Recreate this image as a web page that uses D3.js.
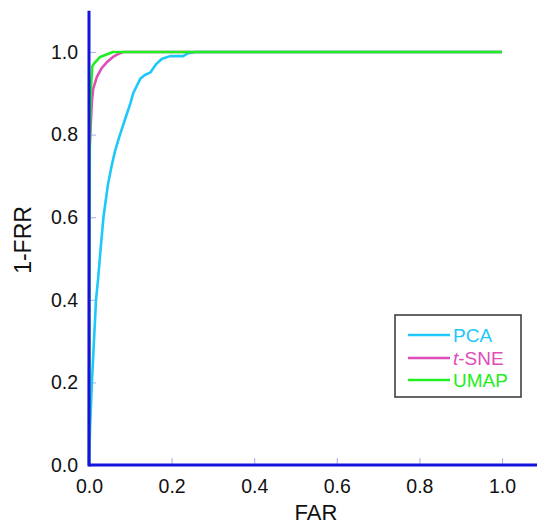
<!DOCTYPE html>
<html>
<head>
<meta charset="utf-8">
<script src="https://cdn.jsdelivr.net/npm/d3@7"></script>
<style>
  body { margin: 0; background: #fff; }
  text { font-family: "Liberation Sans", Arial, sans-serif; }
</style>
</head>
<body>
<script>
// ROC-style curves
const seriesNames = ["PCA", "t-SNE", "UMAP"];
const seriesColors = ["#1ec8fa", "#e04cb8", "#22ee22"];

const pcaFAR = [0, 0.003, 0.007, 0.012, 0.017, 0.022, 0.027, 0.035, 0.046, 0.055, 0.063, 0.072, 0.08, 0.09, 0.1, 0.107, 0.124, 0.136, 0.148, 0.162, 0.176, 0.196, 0.228, 0.24, 0.26, 1.0];
const pcaTAR = [0, 0.1, 0.2, 0.3, 0.4, 0.45, 0.51, 0.6, 0.68, 0.725, 0.76, 0.79, 0.815, 0.845, 0.875, 0.9, 0.935, 0.945, 0.95, 0.97, 0.983, 0.99, 0.99, 0.997, 1.0, 1.0];

const tsneFAR = [0, 0.001, 0.004, 0.007, 0.01, 0.019, 0.03, 0.043, 0.058, 0.07, 0.083, 1.0];
const tsneTAR = [0, 0.75, 0.82, 0.88, 0.91, 0.94, 0.96, 0.975, 0.988, 0.995, 1.0, 1.0];

const umapFAR = [0, 0.002, 0.004, 0.008, 0.012, 0.027, 0.058, 1.0];
const umapTAR = [0, 0.8, 0.9, 0.965, 0.972, 0.988, 1.0, 1.0];

const tickValues = [0, 0.2, 0.4, 0.6, 0.8, 1.0];

const width = 537, height = 524;
const x0 = 89, y0 = 465;
const unit = 413;

const svg = d3.select("body").append("svg")
    .attr("width", width)
    .attr("height", height);

const x = d3.scaleLinear().domain([0, 1.12]).range([x0, x0 + 1.12 * unit]);
const y = d3.scaleLinear().domain([0, 1.1]).range([y0, y0 - 1.1 * unit]);

// inward ticks, light lavender
const xAxis = svg.append("g")
    .attr("transform", `translate(0,${y0})`)
    .call(d3.axisBottom(x).tickValues(tickValues).tickSize(-7).tickPadding(14).tickFormat(d3.format(".1f")));
const yAxis = svg.append("g")
    .attr("transform", `translate(${x0},0)`)
    .call(d3.axisLeft(y).tickValues(tickValues).tickSize(-7).tickPadding(11).tickFormat(d3.format(".1f")));

[xAxis, yAxis].forEach(g => {
    g.select(".domain").remove();
    g.selectAll(".tick line").attr("stroke", "#b4b8f2").attr("stroke-width", 1.2);
    g.selectAll(".tick text").attr("fill", "#111").style("font-size", "19.5px");
});

// curves
const line = d3.line().x(d => x(d[0])).y(d => y(d[1]));
const curves = [
    d3.zip(pcaFAR, pcaTAR),
    d3.zip(tsneFAR, tsneTAR),
    d3.zip(umapFAR, umapTAR)
];
curves.forEach((pts, i) => {
    svg.append("path")
        .datum(pts)
        .attr("fill", "none")
        .attr("stroke", seriesColors[i])
        .attr("stroke-width", 2.6)
        .attr("stroke-linejoin", "round")
        .attr("d", line);
});

// axis lines on top
svg.append("line")
    .attr("x1", x0).attr("x2", width)
    .attr("y1", y0).attr("y2", y0)
    .attr("stroke", "#1414dc").attr("stroke-width", 3);
svg.append("line")
    .attr("x1", x0).attr("x2", x0)
    .attr("y1", y(1.1)).attr("y2", y0 + 1.5)
    .attr("stroke", "#1414dc").attr("stroke-width", 3);

// axis titles
svg.append("text")
    .attr("x", 316).attr("y", 520)
    .style("text-anchor", "middle")
    .style("font-size", "22px")
    .attr("fill", "#111")
    .text("FAR");

svg.append("text")
    .attr("transform", "translate(31,240) rotate(-90)")
    .style("text-anchor", "middle")
    .style("font-size", "23px")
    .attr("fill", "#111")
    .text("1-FRR");

// legend
const legend = svg.append("g");
legend.append("rect")
    .attr("x", 395).attr("y", 315)
    .attr("width", 126).attr("height", 82)
    .attr("fill", "#fff")
    .attr("stroke", "#333")
    .attr("stroke-width", 1.5);

const rowY = [335, 358, 380];
seriesNames.forEach((name, i) => {
    legend.append("line")
        .attr("x1", 408).attr("x2", 450)
        .attr("y1", rowY[i]).attr("y2", rowY[i])
        .attr("stroke", seriesColors[i])
        .attr("stroke-width", 2.6);
    const t = legend.append("text")
        .attr("x", 453).attr("y", rowY[i] + 7)
        .style("font-size", "19px")
        .attr("fill", seriesColors[i]);
    if (name === "t-SNE") {
        t.append("tspan").style("font-style", "italic").text("t");
        t.append("tspan").text("-SNE");
    } else {
        t.text(name);
    }
});
</script>
</body>
</html>
